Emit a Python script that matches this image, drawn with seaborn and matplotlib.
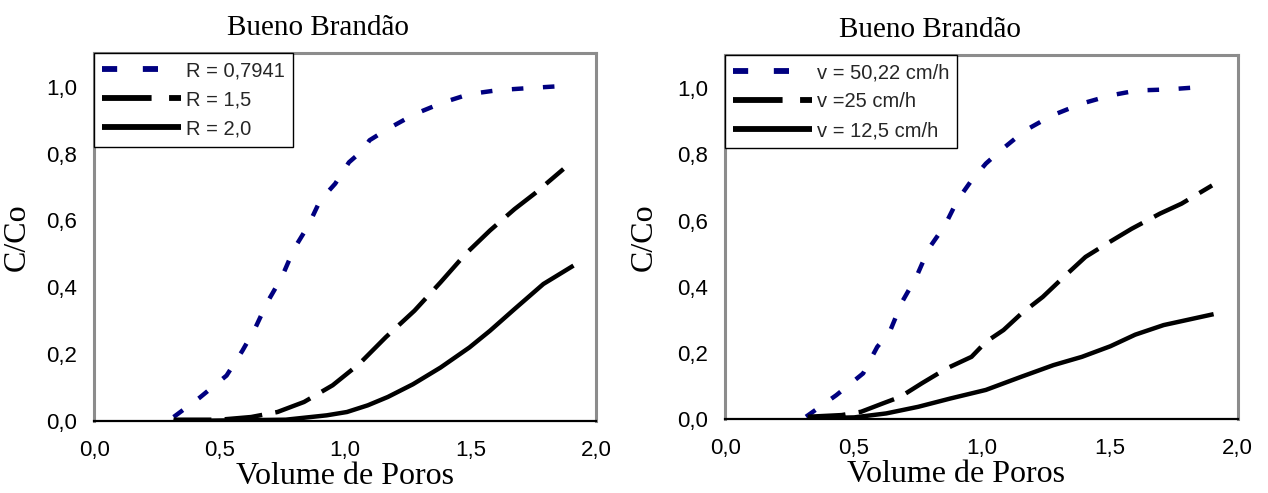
import matplotlib
matplotlib.use("Agg")
import matplotlib.pyplot as plt
import seaborn as sns
import pandas as pd

# ---------------- data ----------------
title = "Bueno Brandão"
xlabel = "Volume de Poros"
ylabel = "C/Co"
xtick_vals = [0.0, 0.5, 1.0, 1.5, 2.0]
xtick_labels = ["0,0", "0,5", "1,0", "1,5", "2,0"]
ytick_vals = [0.0, 0.2, 0.4, 0.6, 0.8, 1.0]
ytick_labels = ["0,0", "0,2", "0,4", "0,6", "0,8", "1,0"]

# left panel: retardation factor R
left_labels = ["R = 0,7941", "R = 1,5", "R = 2,0"]
left_blue_x = [0.316, 0.42, 0.527, 0.59, 0.64, 0.69, 0.747, 0.796, 0.853, 0.90, 0.96,
               1.015, 1.07, 1.097, 1.17, 1.276, 1.39, 1.495, 1.61, 1.73, 1.86]
left_blue_y = [0.012, 0.07, 0.136, 0.21, 0.276, 0.356, 0.43, 0.515, 0.585, 0.66, 0.71,
               0.774, 0.81, 0.84, 0.874, 0.918, 0.953, 0.978, 0.99, 0.996, 1.002]
left_dash_x = [0.316, 0.5, 0.625, 0.73, 0.836, 0.95, 1.056, 1.162, 1.276, 1.38, 1.48,
               1.577, 1.675, 1.756, 1.87]
left_dash_y = [0.004, 0.004, 0.012, 0.027, 0.057, 0.107, 0.171, 0.251, 0.33, 0.415, 0.5,
               0.57, 0.634, 0.681, 0.754]
left_solid_x = [0.316, 0.763, 0.926, 1.007, 1.09, 1.17, 1.27, 1.38, 1.495, 1.577, 1.675,
                1.79, 1.91]
left_solid_y = [0.0, 0.004, 0.017, 0.027, 0.047, 0.072, 0.11, 0.16, 0.22, 0.27, 0.335,
                0.41, 0.465]

# right panel: velocity v
right_labels = ["v = 50,22 cm/h", "v =25 cm/h", "v = 12,5 cm/h"]
right_blue_x = [0.315, 0.433, 0.538, 0.593, 0.642, 0.69, 0.746, 0.794, 0.857, 0.906, 0.96,
                1.017, 1.072, 1.17, 1.274, 1.39, 1.503, 1.607, 1.725, 1.85]
right_blue_y = [0.007, 0.072, 0.138, 0.218, 0.264, 0.354, 0.43, 0.515, 0.585, 0.661, 0.72,
                0.772, 0.81, 0.872, 0.917, 0.953, 0.978, 0.993, 0.996, 1.003]
right_dash_x = [0.322, 0.454, 0.53, 0.614, 0.683, 0.767, 0.864, 0.961, 1.017, 1.086, 1.156,
                1.239, 1.322, 1.406, 1.489, 1.586, 1.697, 1.781, 1.9]
right_dash_y = [0.007, 0.012, 0.022, 0.047, 0.067, 0.108, 0.153, 0.188, 0.233, 0.269, 0.319,
                0.369, 0.43, 0.49, 0.53, 0.575, 0.621, 0.651, 0.706]
right_solid_x = [0.322, 0.503, 0.628, 0.753, 0.878, 1.017, 1.156, 1.281, 1.392, 1.503, 1.6,
                 1.711, 1.906]
right_solid_y = [0.002, 0.005, 0.017, 0.037, 0.062, 0.088, 0.128, 0.163, 0.188, 0.22, 0.255,
                 0.284, 0.317]

# ---------------- style ----------------
sns.set_theme(style="white")
plt.rcParams["font.family"] = ["Liberation Sans", "DejaVu Sans"]
SERIF = ["Liberation Serif", "DejaVu Serif"]

NAVY = "#000080"
LW = 3.2
styles = [
    dict(color=NAVY, dashes=(2.6, 4.4)),
    dict(color="black", dashes=(8.5, 3.0)),
    dict(color="black", dashes=None),
]

fig = plt.figure(figsize=(12.68, 4.93), dpi=100)
ax_l = fig.add_axes([0.0744, 0.146, 0.3957, 0.7458])
ax_r = fig.add_axes([0.5720, 0.150, 0.4041, 0.7383])


def draw(ax, series, labels, title_x, ylab_x, xlab_x):
    for (xs, ys), lab, st in zip(series, labels, styles):
        df = pd.DataFrame({"x": xs, "y": ys})
        sns.lineplot(data=df, x="x", y="y", ax=ax, color=st["color"], linewidth=LW,
                     label=lab, sort=False, estimator=None)
        line = ax.get_lines()[-1]
        line.set_solid_capstyle("butt")
        line.set_dash_capstyle("butt")
        if st["dashes"] is not None:
            line.set_dashes(st["dashes"])
    ax.set_xlim(0, 2.0)
    ax.set_ylim(0, 1.1)
    ax.set_xticks(xtick_vals)
    ax.set_xticklabels(xtick_labels)
    ax.set_yticks(ytick_vals)
    ax.set_yticklabels(ytick_labels)
    ax.tick_params(axis="x", direction="inout", length=9, width=1.2, color="black",
                   labelsize=16, pad=9, labelcolor="black")
    ax.tick_params(axis="y", direction="out", length=4.5, width=1.2, color="black",
                   labelsize=16, pad=8, labelcolor="black")
    for name in ["top", "right", "left"]:
        ax.spines[name].set_color("#8c8c8c")
        ax.spines[name].set_linewidth(2.2)
        ax.spines[name].set_visible(True)
    ax.spines["bottom"].set_color("black")
    ax.spines["bottom"].set_linewidth(1.6)
    ax.spines["bottom"].set_visible(True)
    ax.set_facecolor("white")

    ax.set_title(title, x=title_x, y=1.049, pad=0, va="baseline",
                 fontsize=21, family=SERIF, color="black")
    ax.set_xlabel(xlabel, fontsize=23, family=SERIF, color="black", va="top")
    ax.xaxis.set_label_coords(xlab_x, -0.112)
    ax.set_ylabel(ylabel, fontsize=23, family=SERIF, color="black")
    ax.yaxis.set_label_coords(ylab_x, 0.5)

    leg = ax.legend(loc="upper left", bbox_to_anchor=(0.0, 1.0), borderaxespad=0.0,
                    frameon=True, fancybox=False, shadow=False, fontsize=14.5,
                    handlelength=3.9, handletextpad=0.25, labelspacing=0.5,
                    borderpad=0.4)
    fr = leg.get_frame()
    fr.set_edgecolor("black")
    fr.set_linewidth(1.0)
    fr.set_alpha(1.0)
    for h, st in zip(leg.get_lines(), styles):
        h.set_linewidth(LW + 1)
        h.set_solid_capstyle("butt")
        h.set_dash_capstyle("butt")
        if st["dashes"] is not None:
            h.set_dashes(st["dashes"])


draw(ax_l, [(left_blue_x, left_blue_y), (left_dash_x, left_dash_y),
            (left_solid_x, left_solid_y)], left_labels, 0.446, -0.125, 0.50)
draw(ax_r, [(right_blue_x, right_blue_y), (right_dash_x, right_dash_y),
            (right_solid_x, right_solid_y)], right_labels, 0.40, -0.13, 0.45)

fig.savefig("out.png", dpi=100, facecolor="white")
